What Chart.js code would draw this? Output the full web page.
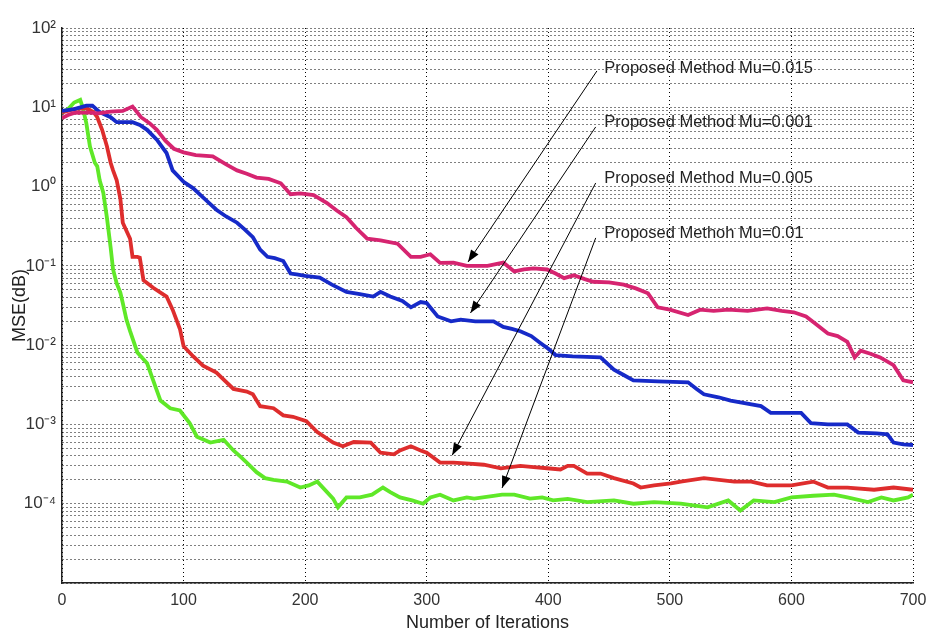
<!DOCTYPE html>
<html>
<head>
<meta charset="utf-8">
<script src="https://cdn.jsdelivr.net/npm/chart.js@4.4.1/dist/chart.umd.min.js"></script>
<style>
  html, body { margin: 0; padding: 0; background: #fff; }
</style>
</head>
<body>
<canvas id="chart-1" width="927" height="634"></canvas>
<script>
// iterations / MSE
const iterMu015 = [0,5,10,20,30,40,50,58,65,72,78,85,92,100,110,124,135,144,152,160,170,180,188,196,207,218,226,234,242,251,262,276,287,295,303,311,322,333,350,363,372,380,388,399,406,413,421,430,437,450,462,472,482,490,500,515,525,536,548,564,580,592,602,612,619,630,638,646,652,657,665,673,684,692,700];
const mseMu015 = [7.3,8.0,8.5,8.6,8.4,8.8,9.0,10.2,7.5,6.3,5.2,3.8,3.0,2.7,2.5,2.4,1.9,1.6,1.45,1.3,1.25,1.1,0.8,0.82,0.78,0.62,0.5,0.41,0.3,0.22,0.21,0.19,0.13,0.13,0.14,0.109,0.11,0.1,0.1,0.11,0.085,0.09,0.093,0.09,0.08,0.07,0.076,0.068,0.063,0.062,0.058,0.052,0.045,0.03,0.028,0.024,0.028,0.027,0.028,0.027,0.029,0.027,0.026,0.023,0.019,0.014,0.013,0.011,0.007,0.0085,0.0078,0.007,0.0056,0.0036,0.0034];

const iterMu001 = [0,10,20,25,31,40,45,58,64,70,78,86,91,100,108,114,122,127,135,144,150,157,163,169,175,182,188,193,200,212,222,234,245,256,262,270,280,287,295,300,309,320,328,340,355,363,370,377,386,394,400,406,420,443,454,462,470,490,515,522,528,540,550,575,583,600,608,616,630,646,655,670,679,684,692,700];
const mseMu001 = [9.0,9.5,10.5,10.5,8.7,7.5,6.5,6.5,6.0,5.2,3.9,2.65,1.6,1.15,0.95,0.78,0.6,0.51,0.42,0.35,0.29,0.23,0.16,0.13,0.125,0.115,0.08,0.078,0.075,0.071,0.058,0.047,0.044,0.041,0.047,0.041,0.036,0.03,0.035,0.034,0.023,0.02,0.021,0.02,0.02,0.017,0.016,0.015,0.013,0.0105,0.009,0.0075,0.0072,0.007,0.0049,0.0042,0.0036,0.0035,0.0034,0.0028,0.0024,0.0022,0.002,0.0017,0.0014,0.0014,0.0014,0.00104,0.001,0.001,0.00079,0.00077,0.00075,0.00059,0.00056,0.00055];

const iterMu005 = [0,10,20,26,29,33,37,40,42,45,48,50,56,58,62,64,67,75,86,91,97,100,108,116,127,141,152,157,163,174,182,190,201,210,223,231,240,254,262,273,278,287,295,300,311,322,335,347,361,377,388,399,410,416,421,432,443,454,470,476,487,501,509,528,553,567,580,600,618,630,646,668,684,700];
const mseMu005 = [8.6,9.5,9.8,8.7,7.5,5.2,3.2,2.0,1.6,1.2,0.7,0.35,0.22,0.13,0.13,0.127,0.066,0.053,0.041,0.028,0.016,0.0097,0.0072,0.0055,0.0045,0.0028,0.0026,0.0024,0.0017,0.0016,0.0013,0.00125,0.0011,0.0008,0.00059,0.00053,0.0006,0.00059,0.00044,0.00042,0.00047,0.00053,0.00047,0.00044,0.00033,0.00033,0.00032,0.00031,0.00028,0.0003,0.00029,0.00028,0.00027,0.0003,0.0003,0.00024,0.00024,0.00021,0.00018,0.00016,0.00017,0.00018,0.00019,0.00021,0.00019,0.00019,0.00017,0.00017,0.00019,0.00016,0.00016,0.00015,0.00016,0.00015];

const iterMu01 = [0,5,10,15,17,20,23,27,29,31,34,37,40,42,45,48,50,53,56,62,70,75,81,89,97,105,111,122,133,141,147,152,160,167,174,185,196,203,210,223,227,234,245,255,264,270,278,288,297,303,311,322,333,339,355,362,372,385,395,404,416,432,454,470,487,509,531,548,558,569,586,600,618,635,646,663,674,684,696,700];
const mseMu01 = [8.6,9.5,11.5,12.4,10,6.3,3.2,2.0,1.8,1.2,0.83,0.4,0.17,0.09,0.06,0.046,0.034,0.021,0.015,0.0081,0.0059,0.0036,0.002,0.0016,0.0015,0.00104,0.0007,0.00059,0.00064,0.00047,0.00039,0.00033,0.00025,0.00021,0.0002,0.00019,0.00016,0.00017,0.00019,0.000116,0.00009,0.00012,0.00012,0.00013,0.00016,0.00014,0.00012,0.00011,0.0001,0.00012,0.00013,0.00011,0.00012,0.000116,0.000126,0.00013,0.00013,0.000116,0.00012,0.00011,0.000115,0.000105,0.00011,0.0001,0.000105,0.0001,0.00009,0.00011,0.000082,0.00011,0.000105,0.00012,0.000126,0.00013,0.00012,0.000105,0.00012,0.00011,0.00012,0.00013];

const xTicks = [0, 100, 200, 300, 400, 500, 600, 700];
const decades = [-5, -4, -3, -2, -1, 0, 1, 2];
const decadeLabels = ["", "10\u207B\u2074", "10\u207B\u00B3", "10\u207B\u00B2", "10\u207B\u00B9", "10\u2070", "10\u00B9", "10\u00B2"];

// annotation texts and arrows (data coordinates)
const noteText = ["Proposed Method Mu=0.015", "Proposed Method Mu=0.001", "Proposed Method Mu=0.005", "Proposed Methoh Mu=0.01"];
const noteX = [446, 446, 446, 446];
const noteY = [31.3, 6.5, 1.28, 0.26];
const arrowFromX = [440, 439, 439, 439];
const arrowFromY = [28.7, 5.65, 1.11, 0.225];
const arrowToX = [334, 336, 321, 362];
const arrowToY = [0.112, 0.0255, 0.00041, 0.000158];

const toPoints = (xs, ys) => xs.map((v, i) => ({ x: v, y: ys[i] }));

const yTickValues = [];
decades.forEach((d) => {
  if (d === 2) { yTickValues.push(100); return; }
  for (let m = 1; m <= 9; m++) yTickValues.push(m * Math.pow(10, d));
});

const notes = {
  id: "notes",
  afterDatasetsDraw(chart) {
    const { ctx, scales: { x, y } } = chart;
    ctx.save();
    for (let i = 0; i < noteText.length; i++) {
      const x0 = x.getPixelForValue(arrowFromX[i]), y0 = y.getPixelForValue(arrowFromY[i]);
      const x1 = x.getPixelForValue(arrowToX[i]), y1 = y.getPixelForValue(arrowToY[i]);
      ctx.strokeStyle = "#000";
      ctx.lineWidth = 1;
      ctx.beginPath();
      ctx.moveTo(x0, y0);
      ctx.lineTo(x1, y1);
      ctx.stroke();
      const a = Math.atan2(y1 - y0, x1 - x0);
      const len = 12, half = 4.5;
      ctx.beginPath();
      ctx.moveTo(x1, y1);
      ctx.lineTo(x1 - len * Math.cos(a) + half * Math.sin(a), y1 - len * Math.sin(a) - half * Math.cos(a));
      ctx.lineTo(x1 - len * Math.cos(a) - half * Math.sin(a), y1 - len * Math.sin(a) + half * Math.cos(a));
      ctx.closePath();
      ctx.fillStyle = "#000";
      ctx.fill();
      ctx.font = '16.5px "Liberation Sans", Arial, sans-serif';
      ctx.fillStyle = "#222";
      ctx.textAlign = "left";
      ctx.textBaseline = "middle";
      ctx.fillText(noteText[i], x.getPixelForValue(noteX[i]), y.getPixelForValue(noteY[i]));
    }
    ctx.restore();
  },
};

const chart1 = new Chart(document.getElementById("chart-1"), {
  type: "line",
  data: {
    datasets: [
      { label: "Mu=0.015", data: toPoints(iterMu015, mseMu015), borderColor: "rgb(214,36,112)" },
      { label: "Mu=0.001", data: toPoints(iterMu001, mseMu001), borderColor: "rgb(22,42,200)" },
      { label: "Mu=0.005", data: toPoints(iterMu005, mseMu005), borderColor: "rgb(222,45,45)" },
      { label: "Mu=0.01", data: toPoints(iterMu01, mseMu01), borderColor: "rgb(95,232,40)" },
    ],
  },
  options: {
    responsive: false,
    animation: false,
    layout: { padding: { top: 28, right: 14, left: 0, bottom: 0 } },
    elements: {
      point: { radius: 0 },
      line: { borderWidth: 3.8, tension: 0 },
    },
    plugins: {
      legend: { display: false },
      tooltip: { enabled: false },
    },
    scales: {
      x: {
        type: "linear",
        min: 0,
        max: 700,
        afterFit(scale) {
          scale.height = 51;
          scale.paddingLeft = 0;
          scale.paddingRight = 0;
        },
        afterBuildTicks(scale) { scale.ticks = xTicks.map((v) => ({ value: v })); },
        grid: { color: "#000", lineWidth: 1, drawTicks: false },
        border: { dash: [1, 3], color: "#222", width: 1.5 },
        ticks: {
          padding: 8,
          color: "#333",
          font: { family: '"Liberation Sans Narrow", "Liberation Sans", Arial, sans-serif', size: 16 },
        },
        title: {
          display: true,
          text: "Number of Iterations",
          color: "#222",
          padding: { top: 1, bottom: 0 },
          font: { family: '"Liberation Sans", Arial, sans-serif', size: 18 },
        },
      },
      y: {
        type: "logarithmic",
        min: 1e-5,
        max: 100,
        afterFit(scale) {
          scale.width = 62;
          scale.paddingTop = 0;
          scale.paddingBottom = 0;
        },
        afterBuildTicks(scale) { scale.ticks = yTickValues.map((v) => ({ value: v })); },
        grid: { color: "#000", lineWidth: 1, drawTicks: false },
        border: { dash: [1, 3], color: "#222", width: 1.5 },
        ticks: {
          padding: 6,
          color: "#333",
          autoSkip: false,
          font: { family: '"Liberation Sans Narrow", "Liberation Sans", Arial, sans-serif', size: 17 },
          callback(value) {
            const e = Math.log10(value);
            if (Math.abs(e - Math.round(e)) > 1e-9) return "";
            return decadeLabels[decades.indexOf(Math.round(e))];
          },
        },
        title: {
          display: true,
          text: "MSE(dB)",
          color: "#222",
          padding: { top: 9, bottom: 0 },
          font: { family: '"Liberation Sans", Arial, sans-serif', size: 18 },
        },
      },
    },
  },
  plugins: [notes],
});
</script>
</body>
</html>
